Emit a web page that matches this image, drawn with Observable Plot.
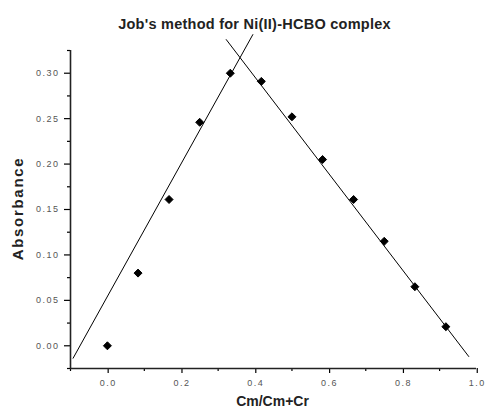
<!DOCTYPE html>
<html>
<head>
<meta charset="utf-8">
<script src="https://cdn.jsdelivr.net/npm/d3@7"></script>
<script src="https://cdn.jsdelivr.net/npm/@observablehq/plot@0.6"></script>
<style>
  html, body { margin: 0; padding: 0; background: #fff; }
  #chart svg { display: block; }
  .ticklbl text { letter-spacing: 1.5px; }
  .ttl text { letter-spacing: 0.25px; }
  .ylbl text { letter-spacing: 1.7px; }
</style>
</head>
<body>
<div id="chart"></div>
<script>
// Data
const titleText = "Job's method for Ni(II)-HCBO complex";
const xLabel = "Cm/Cm+Cr";
const yLabel = "Absorbance";
const moleFraction = [0, 0.083, 0.167, 0.25, 0.333, 0.417, 0.5, 0.583, 0.667, 0.75, 0.833, 0.917];
const absorbance = [0.000, 0.080, 0.161, 0.246, 0.300, 0.291, 0.252, 0.205, 0.161, 0.115, 0.065, 0.021];
// fitted straight lines (end points)
const leftFitX = [-0.093, 0.394];
const leftFitY = [-0.0137, 0.3425];
const rightFitX = [0.322, 0.979];
const rightFitY = [0.337, -0.0118];
// axes
const xDomain = [-0.1, 1.0];
const yDomain = [-0.025, 0.325];
const xTicks = [0, 0.2, 0.4, 0.6, 0.8, 1.0];
const xMinorTicks = [-0.1, 0.1, 0.3, 0.5, 0.7, 0.9];
const yTicks = [0, 0.05, 0.10, 0.15, 0.20, 0.25, 0.30];
const yMinorTicks = [-0.025, 0.025, 0.075, 0.125, 0.175, 0.225, 0.275, 0.325];

const points = moleFraction.map((x, i) => ({x, y: absorbance[i]}));
const leftLine = leftFitX.map((x, i) => ({x, y: leftFitY[i]}));
const rightLine = rightFitX.map((x, i) => ({x, y: rightFitY[i]}));

const font = "'Liberation Sans', Arial, sans-serif";

const chart = Plot.plot({
  width: 485,
  height: 412,
  marginLeft: 70,
  marginRight: 9,
  marginTop: 50,
  marginBottom: 44,
  style: {fontFamily: font, background: "#fff", color: "#000"},
  x: {domain: xDomain},
  y: {domain: yDomain},
  marks: [
    // minor ticks
    Plot.axisX({ticks: xMinorTicks, tickSize: 3, tickFormat: () => "", label: null, strokeWidth: 1.2}),
    Plot.axisY({ticks: yMinorTicks, tickSize: 3, tickFormat: () => "", label: null, strokeWidth: 1.2}),
    // major ticks + labels
    Plot.axisX({ticks: xTicks, tickSize: 5, tickPadding: 6, tickFormat: d3.format(".1f"), label: null,
      fontSize: 9, fill: "#555", strokeWidth: 1.2, dx: 0.75, className: "ticklbl"}),
    Plot.axisY({ticks: yTicks, tickSize: 6, tickPadding: 5, tickFormat: d3.format(".2f"), label: null,
      fontSize: 9, fill: "#555", strokeWidth: 1.2, className: "ticklbl"}),
    // axis lines
    Plot.ruleX([xDomain[0]], {y1: yDomain[0], y2: yDomain[1], stroke: "#222", strokeWidth: 1.6}),
    Plot.ruleY([yDomain[0]], {x1: xDomain[0], x2: xDomain[1], stroke: "#222", strokeWidth: 1.6}),
    // fit lines
    Plot.line(leftLine, {x: "x", y: "y", stroke: "#000", strokeWidth: 1}),
    Plot.line(rightLine, {x: "x", y: "y", stroke: "#000", strokeWidth: 1}),
    // data points
    Plot.dot(points, {x: "x", y: "y", symbol: "diamond2", fill: "#000", stroke: "#000", strokeWidth: 1, r: 3.6}),
    // title and axis labels
    Plot.text([titleText], {frameAnchor: "top", dx: -19, dy: -32, fontSize: 14.5, fontWeight: "bold",
      fill: "#222", className: "ttl"}),
    Plot.text([xLabel], {frameAnchor: "bottom", dx: -1, dy: 37, fontSize: 14, fontWeight: "bold", fill: "#222"}),
    Plot.text([yLabel], {frameAnchor: "left", textAnchor: "middle", dx: -52, dy: -1, rotate: -90, fontSize: 15,
      fontWeight: "bold", fill: "#222", className: "ylbl"})
  ]
});
document.getElementById("chart").appendChild(chart);
</script>
</body>
</html>
